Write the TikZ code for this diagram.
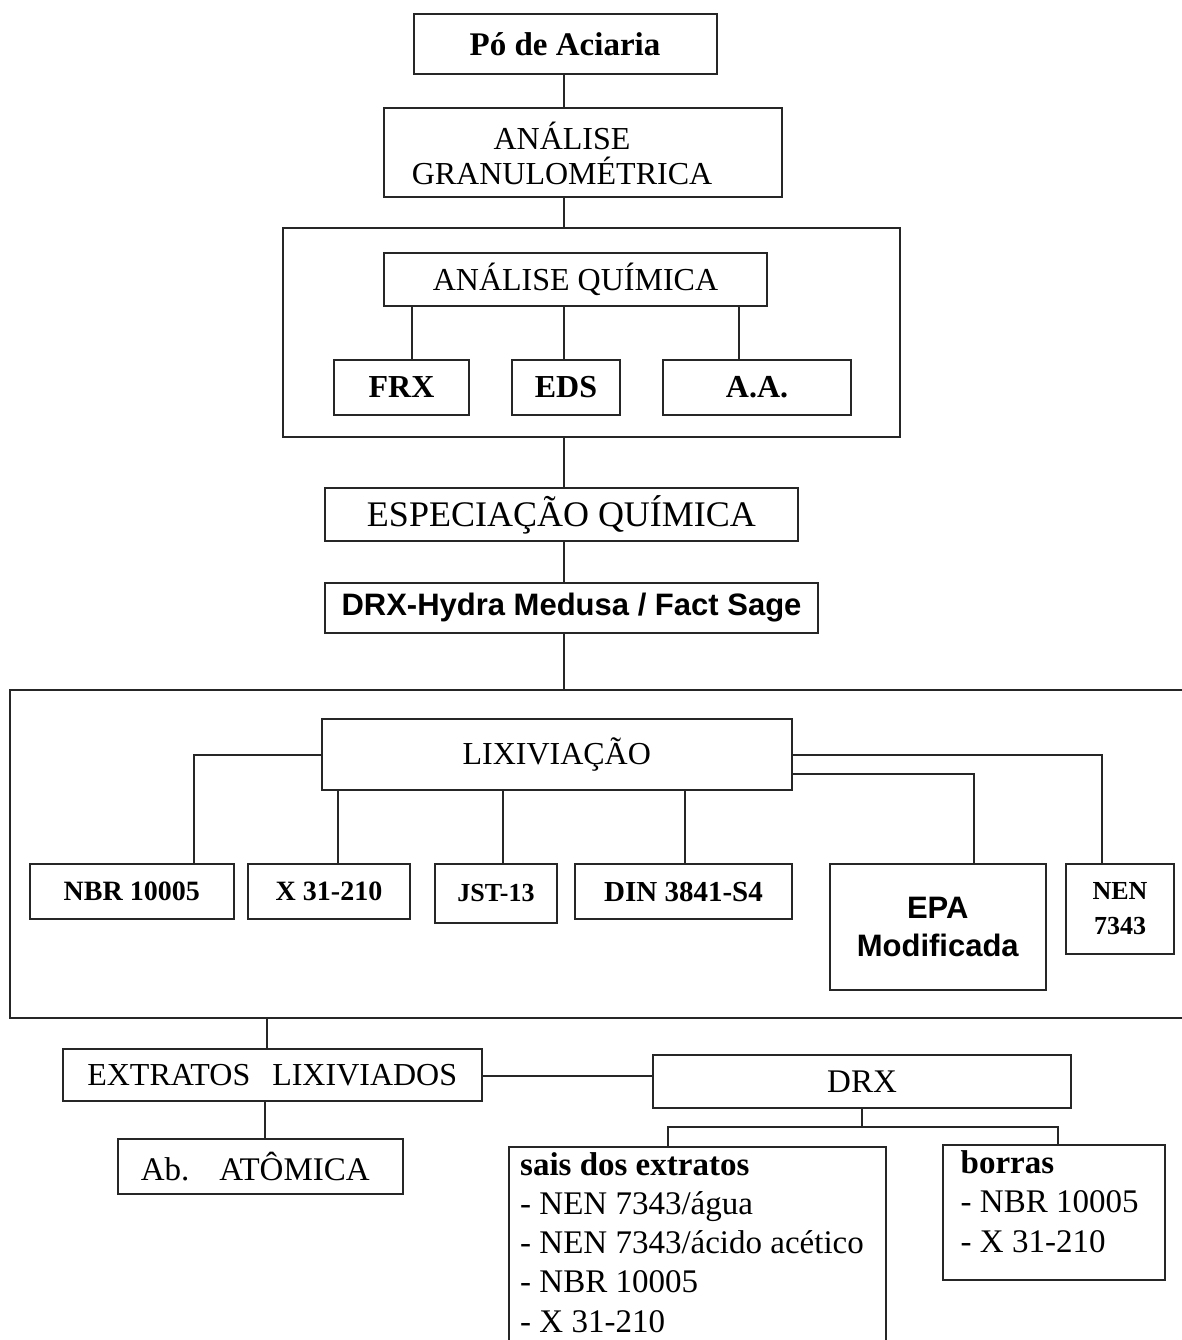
\documentclass[tikz,border=0pt]{standalone}
\usepackage{fontspec}
\setmainfont{Liberation Serif}
\newfontfamily\lsans{Liberation Sans}
\begin{document}
\begin{tikzpicture}[x=1pt,y=-1pt,
  box/.style={draw=black!85, line width=2pt, rectangle, inner sep=0pt, align=center, text=black},
  conn/.style={draw=black!85, line width=2pt},
  txt/.style={inner sep=0pt, text=black}]
\useasboundingbox (0,0) rectangle (1181,1340);
\fill[white] (0,0) rectangle (1181,1340);

% helper x-coordinates for connectors
\coordinate (sp) at (563.5,0);
\coordinate (cfrx) at (412,0);
\coordinate (caa) at (739,0);
\coordinate (cnbr) at (193.6,0);
\coordinate (cx31) at (338,0);
\coordinate (cjst) at (502.5,0);
\coordinate (cdin) at (684.6,0);
\coordinate (cepa) at (974,0);
\coordinate (cnen) at (1102,0);
\coordinate (rl1) at (0,755);
\coordinate (rl2) at (0,774);
\coordinate (cext) at (267,0);
\coordinate (cab) at (265,0);
\coordinate (rd) at (0,1076);
\coordinate (rj) at (0,1127);
\coordinate (csais) at (668,0);
\coordinate (cbor) at (1058,0);

% top part
\node[box, minimum width=303pt, minimum height=60pt, font=\fontsize{33}{36}\selectfont\bfseries] (po) at (565,44) {Pó de Aciaria};
\node[box, minimum width=398pt, minimum height=89pt] (gran) at (583,152.5) {};
\node[txt, align=center, font=\fontsize{32}{35}\selectfont] (grant) at (562,153) {ANÁLISE\\GRANULOMÉTRICA};
\node[box, minimum width=617pt, minimum height=209pt] (outer1) at (591.5,332.5) {};
\node[box, minimum width=383pt, minimum height=53pt, font=\fontsize{32}{35}\selectfont] (aq) at (575.5,279.5) {ANÁLISE QUÍMICA};
\node[box, minimum width=135pt, minimum height=55pt, font=\fontsize{32}{35}\selectfont\bfseries] (frx) at (401.5,387.5) {FRX};
\node[box, minimum width=108pt, minimum height=55pt, font=\fontsize{32}{35}\selectfont\bfseries] (eds) at (566,387.5) {EDS};
\node[box, minimum width=188pt, minimum height=55pt, font=\fontsize{32}{35}\selectfont\bfseries] (aa) at (757,387.5) {A.A.};
\node[box, minimum width=473pt, minimum height=53pt, font=\fontsize{36}{38}\selectfont] (esp) at (561.5,514.5) {ESPECIAÇÃO QUÍMICA};
\node[box, minimum width=493pt, minimum height=50pt, font=\fontsize{31}{34}\selectfont\lsans\bfseries] (drxh) at (571.5,608) {DRX-Hydra Medusa / Fact Sage};

% lixiviation block
\node[box, minimum width=1185pt, minimum height=328pt] (outer2) at (602.5,853.5) {};
\node[box, minimum width=470.5pt, minimum height=71pt, font=\fontsize{32}{35}\selectfont] (lix) at (556.75,754.5) {LIXIVIAÇÃO};
\node[box, minimum width=204.5pt, minimum height=55pt, font=\fontsize{28}{31}\selectfont\bfseries] (nbr) at (131.75,891.5) {NBR 10005};
\node[box, minimum width=162pt, minimum height=55pt, font=\fontsize{28}{31}\selectfont\bfseries] (x31) at (329,891.5) {X 31-210};
\node[box, minimum width=122pt, minimum height=59pt, font=\fontsize{26}{29}\selectfont\bfseries] (jst) at (496,893.5) {JST-13};
\node[box, minimum width=217pt, minimum height=55pt, font=\fontsize{29}{32}\selectfont\bfseries] (din) at (683.5,891.5) {DIN 3841-S4};
\node[box, minimum width=216.5pt, minimum height=126pt, font=\fontsize{31}{38}\selectfont\lsans\bfseries] (epa) at (937.75,927) {EPA\\Modificada};
\node[box, minimum width=108pt, minimum height=90pt, font=\fontsize{26}{35}\selectfont\bfseries] (nen) at (1120,909) {NEN\\7343};

% bottom part
\node[box, minimum width=418.5pt, minimum height=52pt, font=\fontsize{32}{35}\selectfont] (ext) at (272.25,1075) {EXTRATOS\hspace{22pt}LIXIVIADOS};
\node[box, minimum width=285.5pt, minimum height=55pt, font=\fontsize{33}{36}\selectfont] (ab) at (260.25,1166.5) {\hspace*{-10pt}Ab.\hspace{30pt}ATÔMICA};
\node[box, minimum width=418pt, minimum height=53pt, font=\fontsize{33}{36}\selectfont] (drx) at (862,1081.5) {DRX};
\node[box, minimum width=377pt, minimum height=203pt] (sais) at (697.5,1248.5) {};
\node[box, minimum width=222pt, minimum height=135pt] (borras) at (1054,1212.5) {};

\node[txt, anchor=base west, font=\fontsize{33}{36}\selectfont\bfseries] (s1) at (520,1175) {sais dos extratos};
\node[txt, anchor=base west, font=\fontsize{33}{36}\selectfont] (s2) at (520,1214.25) {- NEN 7343/água};
\node[txt, anchor=base west, font=\fontsize{33}{36}\selectfont] (s3) at (520,1253.5) {- NEN 7343/ácido acético};
\node[txt, anchor=base west, font=\fontsize{33}{36}\selectfont] (s4) at (520,1292.75) {- NBR 10005};
\node[txt, anchor=base west, font=\fontsize{33}{36}\selectfont] (s5) at (520,1332) {- X 31-210};
\node[txt, anchor=base west, font=\fontsize{33}{36}\selectfont\bfseries] (b1) at (960.5,1173) {borras};
\node[txt, anchor=base west, font=\fontsize{33}{36}\selectfont] (b2) at (960.5,1212.5) {- NBR 10005};
\node[txt, anchor=base west, font=\fontsize{33}{36}\selectfont] (b3) at (960.5,1252) {- X 31-210};

% connectors
\draw[conn] (sp |- po.south) -- (sp |- gran.north);
\draw[conn] (sp |- gran.south) -- (sp |- outer1.north);
\draw[conn] (cfrx |- aq.south) -- (cfrx |- frx.north);
\draw[conn] (sp |- aq.south) -- (sp |- eds.north);
\draw[conn] (caa |- aq.south) -- (caa |- aa.north);
\draw[conn] (sp |- outer1.south) -- (sp |- esp.north);
\draw[conn] (sp |- esp.south) -- (sp |- drxh.north);
\draw[conn] (sp |- drxh.south) -- (sp |- outer2.north);

\draw[conn] (lix.west |- rl1) -- (cnbr |- rl1) -- (cnbr |- nbr.north);
\draw[conn] (cx31 |- lix.south) -- (cx31 |- x31.north);
\draw[conn] (cjst |- lix.south) -- (cjst |- jst.north);
\draw[conn] (cdin |- lix.south) -- (cdin |- din.north);
\draw[conn] (lix.east |- rl1) -- (cnen |- rl1) -- (cnen |- nen.north);
\draw[conn] (lix.east |- rl2) -- (cepa |- rl2) -- (cepa |- epa.north);

\draw[conn] (cext |- outer2.south) -- (cext |- ext.north);
\draw[conn] (cab |- ext.south) -- (cab |- ab.north);
\draw[conn] (ext.east |- rd) -- (drx.west |- rd);
\draw[conn] (drx.south) -- (drx.south |- rj);
\draw[conn] (csais |- sais.north) -- (csais |- rj) -- (cbor |- rj) -- (cbor |- borras.north);
\end{tikzpicture}
\end{document}
